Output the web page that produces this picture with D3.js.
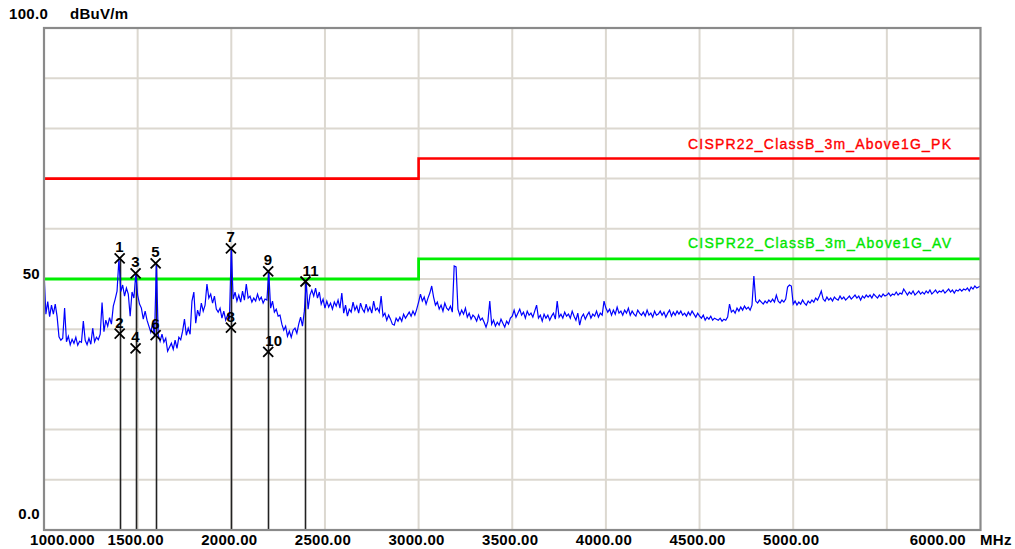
<!DOCTYPE html>
<html>
<head>
<meta charset="utf-8">
<script src="https://cdn.jsdelivr.net/npm/d3@7"></script>
<style>
  html, body { margin: 0; padding: 0; background: #fff; }
  svg { display: block; }
  .lbl { font-family: "Liberation Sans", Arial, sans-serif; font-weight: bold; font-size: 15px; fill: #000; letter-spacing: 0.3px; }
  .lim { font-family: "Liberation Sans", Arial, sans-serif; font-size: 14px; stroke-width: 0.35px; }
</style>
</head>
<body>
<svg id="chart" width="1015" height="549"></svg>
<script>
// axis ticks
var xTickValues = [1000, 1500, 2000, 2500, 3000, 3500, 4000, 4500, 5000, 6000];
var xTickLabels = ["1000.000", "1500.00", "2000.00", "2500.00", "3000.00", "3500.00", "4000.00", "4500.00", "5000.00", "6000.00"];
var yTickValues = [0, 50, 100];
var yTickLabels = ["0.0", "50", "100.0"];

// limit lines (step at 3 GHz)
var limitFreq = [1000, 3000, 3000, 6000];
var pkLevel = [70, 70, 74, 74];
var avLevel = [50, 50, 54, 54];
var pkName = "CISPR22_ClassB_3m_Above1G_PK";
var avName = "CISPR22_ClassB_3m_Above1G_AV";

// markers
var markerNo = [1, 2, 3, 4, 5, 6, 7, 8, 9, 10, 11];
var markerFreq = [1404, 1404, 1489, 1489, 1596, 1596, 1998, 1998, 2197, 2197, 2396];
var markerLevel = [54.1, 39.1, 51.1, 36.2, 53.1, 38.8, 56.1, 40.3, 51.5, 35.5, 49.5];

// measured trace, 10 MHz steps from 1000 MHz
var traceStart = 1000, traceStep = 10;
var traceLevel = [
  51.5, 43.0, 45.5, 42.5, 44.8, 43.0, 45.0, 42.5, 38.5, 37.8,
  38.2, 44.2, 37.5, 38.6, 36.9, 38.0, 37.2, 38.4, 36.8, 37.6,
  37.4, 41.6, 37.8, 36.9, 38.2, 37.0, 40.2, 37.5, 38.4, 37.9,
  39.0, 45.3, 39.5, 41.8, 40.6, 42.3, 41.0, 44.6, 46.0, 47.6,
  54.0, 47.5, 48.8, 46.6, 48.2, 47.0, 42.6, 47.4, 46.2, 51.0,
  46.8, 45.0, 44.2, 42.0, 43.6, 41.8, 40.6, 39.4, 41.2, 38.6,
  53.0, 38.8, 37.6, 39.0, 37.4, 38.2, 35.6, 36.4, 37.2, 36.0,
  37.8, 36.2, 38.4, 37.9, 39.6, 42.0, 38.8, 40.2, 39.0, 45.6,
  47.4, 41.2, 43.8, 42.6, 45.2, 43.6, 44.8, 49.0, 46.2, 47.0,
  45.2, 46.6, 44.0, 43.4, 44.2, 42.2, 43.6, 41.8, 42.8, 42.0,
  56.0, 46.0, 47.4, 45.6, 46.8, 45.4, 47.6, 45.8, 49.0, 46.2,
  46.6, 45.4, 46.2, 45.6, 47.0, 45.8, 46.4, 45.2, 46.0, 45.8,
  51.4, 44.2, 45.6, 43.4, 44.0, 42.6, 42.8, 41.0, 39.8, 40.6,
  38.6, 39.6, 38.4, 39.8, 40.2, 39.2, 41.0, 42.4, 40.6, 43.6,
  49.4, 44.0, 46.8, 47.8, 46.6, 48.2, 46.2, 47.4, 45.0, 46.0,
  44.2, 45.6, 44.4, 45.2, 44.0, 45.4, 44.6, 45.8, 44.2, 47.2,
  43.2, 44.8, 42.6, 44.0, 43.4, 45.4, 43.8, 44.6, 43.2, 45.2,
  44.0, 43.4, 45.0, 43.6, 44.4, 43.2, 45.6, 43.8, 44.2, 43.4,
  46.6, 42.6, 43.2, 41.8, 42.8, 42.0, 41.0, 40.8, 42.2, 41.6,
  42.4, 41.6, 43.0, 42.2, 42.8, 43.4, 42.6, 43.6, 42.8, 44.0,
  45.4, 47.0, 45.6, 46.4, 45.0, 46.2, 47.2, 48.6, 46.4, 44.8,
  45.4, 44.0, 44.8, 43.6, 45.2, 44.2, 43.8, 44.6, 43.4, 52.6,
  52.4, 44.0, 42.8, 43.8, 43.0, 44.2, 42.4, 43.2, 42.0, 42.8,
  42.4, 41.6, 42.8, 41.8, 42.2, 41.4, 40.4, 41.6, 45.6, 41.0,
  41.8, 40.6, 41.4, 40.8, 42.0, 41.2, 40.4, 41.6, 41.0, 42.2,
  42.6, 43.8, 42.4, 43.2, 44.0, 42.8, 43.4, 42.2, 43.6, 42.8,
  43.2, 42.4, 43.6, 44.8, 42.2, 42.8, 41.6, 43.0, 42.2, 42.8,
  41.8, 42.6, 43.2, 42.0, 45.6, 42.4, 43.0, 42.2, 43.4, 42.6,
  43.0, 42.2, 43.6, 42.6, 41.8, 43.2, 40.8, 42.4, 43.0, 42.0,
  42.8, 43.4, 42.2, 43.0, 42.6, 43.6, 42.4, 43.2, 42.8, 45.6,
  44.2, 43.4, 44.0, 42.8, 43.8, 43.0, 44.4, 43.2, 43.6, 42.8,
  43.8, 43.2, 44.2, 42.8, 43.6, 43.0, 42.6, 43.8, 43.2, 42.8,
  43.4, 42.6, 43.8, 42.8, 43.2, 42.4, 43.6, 42.8, 43.0, 43.6,
  42.8, 43.4, 42.4, 43.2, 43.8, 42.6, 43.4, 42.8, 43.6, 43.0,
  43.6, 42.8, 43.2, 42.6, 43.4, 42.8, 43.6, 43.0, 42.4, 43.2,
  42.6, 42.2, 42.8, 41.8, 42.4, 42.0, 42.6, 41.8, 42.2, 42.0,
  41.8, 42.2, 41.6, 42.0, 41.8, 42.4, 45.0, 43.4, 43.8, 43.2,
  44.2, 43.6, 44.4, 43.8, 44.6, 44.0, 44.4, 43.8, 44.8, 50.6,
  45.6, 45.2, 45.8, 45.4, 45.0, 45.6, 45.2, 45.8, 45.4, 46.0,
  45.4, 46.8, 45.6, 45.2, 45.8, 45.4, 46.0, 48.4, 48.8, 48.6,
  45.0, 45.6, 44.8, 45.4, 45.0, 45.8, 45.2, 44.8, 45.6, 45.2,
  45.8, 45.4, 46.2, 45.8, 46.6, 47.6, 46.0, 45.6, 46.4, 45.8,
  46.2, 45.6, 46.4, 46.0, 45.8, 46.6, 46.0, 46.4, 45.8, 46.2,
  46.6, 46.0, 46.4, 46.8, 46.2, 46.6, 45.8, 46.6, 46.2, 46.8,
  46.4, 46.8, 46.2, 47.0, 46.6, 46.2, 46.8, 46.4, 47.0, 46.6,
  46.8, 47.2, 46.6, 47.0, 46.8, 47.4, 46.8, 47.2, 47.0, 48.0,
  47.4, 46.8, 47.4, 47.0, 47.6, 46.8, 47.2, 47.6, 47.0, 47.4,
  47.0, 47.6, 47.2, 47.8, 47.0, 47.4, 47.8, 47.2, 47.6, 47.4,
  47.8, 47.2, 47.6, 48.0, 47.4, 47.8, 47.2, 47.8, 47.6, 48.0,
  47.6, 48.0, 47.8, 48.2, 47.6, 48.4, 48.0, 48.6, 48.2, 48.4,
  48.6
];

var svg = d3.select("#chart");

var x = d3.scaleLinear().domain([1000, 6000]).range([44, 980.5]);
var y = d3.scaleLinear().domain([0, 100]).range([530, 28]);

// grid
var grid = svg.append("g").attr("stroke", "#dcd8d0").attr("stroke-width", 2);
grid.selectAll(".gx")
  .data(d3.range(1500, 6000, 500))
  .enter().append("line")
  .attr("x1", function(d) { return x(d); })
  .attr("x2", function(d) { return x(d); })
  .attr("y1", y(100)).attr("y2", y(0));
grid.selectAll(".gy")
  .data(d3.range(10, 100, 10))
  .enter().append("line")
  .attr("x1", x(1000)).attr("x2", x(6000))
  .attr("y1", function(d) { return y(d); })
  .attr("y2", function(d) { return y(d); });

// limit lines
var limLine = d3.line()
  .x(function(d, i) { return x(limitFreq[i]); })
  .y(function(d) { return y(d); });

svg.append("path").datum(pkLevel)
  .attr("d", limLine).attr("fill", "none")
  .attr("stroke", "#ff0000").attr("stroke-width", 2.6);
svg.append("path").datum(avLevel)
  .attr("d", limLine).attr("fill", "none")
  .attr("stroke", "#00ee00").attr("stroke-width", 2.8);

svg.append("text").attr("class", "lim")
  .attr("x", 688).attr("y", y(pkLevel[3]) - 10)
  .attr("textLength", 263).attr("lengthAdjust", "spacing")
  .attr("fill", "#ff0000").attr("stroke", "#ff0000").text(pkName);
svg.append("text").attr("class", "lim")
  .attr("x", 688).attr("y", y(avLevel[3]) - 11)
  .attr("textLength", 263).attr("lengthAdjust", "spacing")
  .attr("fill", "#00e600").attr("stroke", "#00e600").text(avName);

// marker stems: from bottom up to the highest marker at each frequency
var stemTop = d3.rollup(markerFreq.map(function(f, i) { return [f, markerLevel[i]]; }),
  function(v) { return d3.max(v, function(d) { return d[1]; }); },
  function(d) { return d[0]; });

svg.append("g").selectAll("line")
  .data(Array.from(stemTop))
  .enter().append("line")
  .attr("x1", function(d) { return Math.round(x(d[0])) + 0.5; })
  .attr("x2", function(d) { return Math.round(x(d[0])) + 0.5; })
  .attr("y1", y(0))
  .attr("y2", function(d) { return y(d[1]); })
  .attr("stroke", "#222").attr("stroke-width", 1.6);

// trace
var trace = d3.line()
  .x(function(d, i) { return x(traceStart + i * traceStep); })
  .y(function(d) { return y(d); });

svg.append("path").datum(traceLevel)
  .attr("d", trace).attr("fill", "none")
  .attr("stroke", "#0000ff").attr("stroke-width", 1.2)
  .attr("stroke-linejoin", "miter");

// markers
var mk = svg.append("g").selectAll("g")
  .data(markerNo)
  .enter().append("g")
  .attr("transform", function(d, i) {
    return "translate(" + x(markerFreq[i]) + "," + y(markerLevel[i]) + ")";
  });
mk.append("path")
  .attr("d", "M-5,-5L5,5M-5,5L5,-5")
  .attr("stroke", "#000").attr("stroke-width", 1.8);
mk.append("text").attr("class", "lbl")
  .attr("x", function(d) { return d > 9 ? -3 : 0; })
  .attr("y", -6)
  .attr("text-anchor", function(d) { return d > 9 ? "start" : "middle"; })
  .text(function(d) { return d; });

// frame
svg.append("rect")
  .attr("x", x(1000)).attr("y", y(100))
  .attr("width", x(6000) - x(1000)).attr("height", y(0) - y(100))
  .attr("fill", "none").attr("stroke", "#8a8a8a").attr("stroke-width", 2.2);

// x labels
svg.append("g").selectAll("text")
  .data(xTickValues)
  .enter().append("text").attr("class", "lbl")
  .attr("x", function(d, i) {
    if (i === 0) return 30;
    if (i === xTickValues.length - 1) return 966;
    return x(d) - 2;
  })
  .attr("y", 545)
  .attr("text-anchor", function(d, i) {
    if (i === 0) return "start";
    if (i === xTickValues.length - 1) return "end";
    return "middle";
  })
  .text(function(d, i) { return xTickLabels[i]; });

svg.append("text").attr("class", "lbl")
  .attr("x", 980).attr("y", 545).text("MHz");

// y labels
svg.append("text").attr("class", "lbl")
  .attr("x", 9).attr("y", 19).text(yTickLabels[2]);
svg.append("text").attr("class", "lbl")
  .attr("x", 70).attr("y", 19).text("dBuV/m");
svg.append("text").attr("class", "lbl")
  .attr("x", 40).attr("y", y(yTickValues[1]))
  .attr("text-anchor", "end").text(yTickLabels[1]);
svg.append("text").attr("class", "lbl")
  .attr("x", 40).attr("y", 519)
  .attr("text-anchor", "end").text(yTickLabels[0]);
</script>
</body>
</html>
